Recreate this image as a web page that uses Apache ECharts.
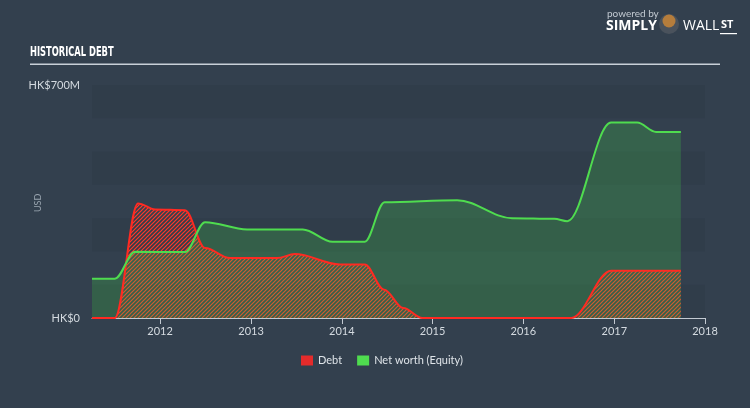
<!DOCTYPE html>
<html><head><meta charset="utf-8">
<script src="https://cdn.jsdelivr.net/npm/echarts@6/dist/echarts.min.js"></script>
<style>html,body{margin:0;padding:0;background:#33404e;}#c{width:750px;height:408px;}</style>
</head><body><div id="c"></div>
<script>
var equityDates = ['2011-04-02','2011-07-03','2011-09-22','2012-04-10','2012-06-30','2012-12-16','2013-07-28','2013-11-25','2014-04-03','2014-06-22','2015-04-10','2015-11-17','2016-05-05','2016-06-26','2016-12-19','2017-04-03','2017-06-18','2017-09-26'];
var equityValues = [118,118,199,198,288,266,266,229,229,348,354,300,298,291,587,587,559,559];
var debtDates = ['2011-04-02','2011-07-03','2011-10-04','2011-12-12','2012-04-10','2012-06-30','2012-10-08','2013-04-15','2013-06-26','2013-12-24','2014-04-03','2014-06-20','2014-09-05','2014-11-21','2016-07-12','2016-12-19','2017-09-26'];
var debtValues = [0,0,344,326,324,210,180,180,192,161,161,85,30,0,0,142,142];
var yearTicks = ['2012-01-01','2013-01-01','2014-01-01','2015-01-01','2016-01-01','2017-01-01','2018-01-01'];
var yTickLabels = {0:'HK$0', 700:'HK$700M'};

function ts(d){ return Date.parse(d + 'T00:00:00Z'); }
function pair(d, v){ return d.map(function(x,i){ return [ts(x), v[i]*1e6]; }); }
var tickTimes = yearTicks.map(ts);

var pc = document.createElement('canvas'); pc.width = 4; pc.height = 4;
var g = pc.getContext('2d');
g.strokeStyle = '#ff3a2a'; g.lineWidth = 1.2;
g.beginPath(); g.moveTo(0,4); g.lineTo(4,0); g.moveTo(-1,1); g.lineTo(1,-1); g.moveTo(3,5); g.lineTo(5,3); g.stroke();

var chart = echarts.init(document.getElementById('c'), null, {renderer:'canvas'});
chart.setOption({
  backgroundColor: '#33404e',
  animation: false,
  grid: {left: 92, right: 45, top: 85, bottom: 90},
  xAxis: {
    type: 'value', min: ts('2011-04-02'), max: ts('2018-01-01'),
    axisLine: {show: true, lineStyle: {color: '#c3cad2', width: 1}},
    axisTick: {show: true, length: 6, lineStyle: {color: '#c3cad2'}, customValues: tickTimes},
    axisLabel: {color: '#d4dae0', fontSize: 11, fontFamily: 'Lato', margin: 8, customValues: tickTimes,
      formatter: function(v){ return String(new Date(v).getUTCFullYear()); }},
    splitLine: {show: false}
  },
  yAxis: {
    type: 'value', min: 0, max: 700e6, interval: 100e6,
    axisLine: {show: false}, axisTick: {show: false},
    axisLabel: {color: '#d4dae0', fontSize: 11, fontFamily: 'Lato', margin: 12,
      formatter: function(v){ var k = Math.round(v/1e6); return yTickLabels[k] || ''; }},
    splitLine: {show: false},
    splitArea: {show: true, areaStyle: {color: ['rgba(20,30,45,0.09)', 'rgba(0,0,0,0)']}}
  },
  legend: {
    left: 296, top: 350, itemWidth: 12, itemHeight: 10, itemGap: 15,
    textStyle: {color: '#dfe4e9', fontSize: 11, fontFamily: 'Lato'},
    data: [{name: 'Debt', icon: 'rect', itemStyle: {color: '#e52b2b'}},
           {name: 'Net worth (Equity)', icon: 'rect', itemStyle: {color: '#4fdc4f'}}]
  },
  graphic: [
    {type: 'text', left: 30, top: 45, scaleX: 0.66, style: {text: 'HISTORICAL DEBT', fill: '#ffffff', font: 'bold 14px "DejaVu Sans Condensed"'}},
    {type: 'rect', shape: {x: 30, y: 63.5, width: 690, height: 1.5}, style: {fill: '#c9d0d8'}},
    {type: 'text', x: 607, y: 9, style: {text: 'powered by', fill: '#c3cad2', font: '10px Lato'}},
    {type: 'text', x: 606, y: 19, style: {text: 'SIMPLY', fill: '#ffffff', font: 'bold 14px "Open Sans"'}},
    {type: 'circle', shape: {cx: 669, cy: 24, r: 10}, style: {fill: '#4a525c'}},
    {type: 'circle', shape: {cx: 669, cy: 21, r: 6.5}, style: {fill: '#b57d3c'}},
    {type: 'text', x: 683, y: 19, style: {text: 'WALL', fill: '#ffffff', font: '14px "Open Sans"'}},
    {type: 'text', x: 721, y: 19, style: {text: 'ST', fill: '#ffffff', font: 'bold 11px "Open Sans"'}},
    {type: 'rect', shape: {x: 720, y: 33, width: 17, height: 1.2}, style: {fill: '#ffffff'}},
    {type: 'text', x: 34, y: 212, rotation: Math.PI/2, style: {text: 'USD', fill: '#9aa5b0', font: '9px Lato'}}
  ],
  series: [
    {
      name: 'Debt', type: 'line', data: pair(debtDates, debtValues),
      smooth: 0.35, smoothMonotone: 'x', symbol: 'none',
      lineStyle: {color: '#ff2a22', width: 2},
      itemStyle: {color: '#e52b2b'},
      areaStyle: {color: {image: pc, repeat: 'repeat'}, opacity: 1}
    },
    {
      name: 'Net worth (Equity)', type: 'line', data: pair(equityDates, equityValues),
      smooth: 0.35, smoothMonotone: 'x', symbol: 'none',
      lineStyle: {color: '#4fdc4f', width: 2},
      itemStyle: {color: '#4fdc4f'},
      areaStyle: {color: 'rgba(62,200,72,0.25)', opacity: 1}
    }
  ]
});
</script></body></html>
